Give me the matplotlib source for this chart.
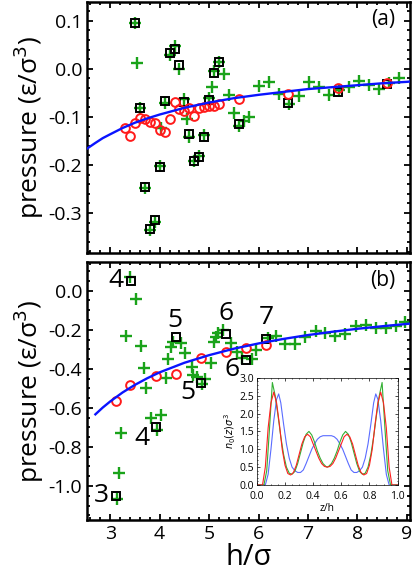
import numpy as np
import matplotlib
matplotlib.use("Agg")
import matplotlib.pyplot as plt
from matplotlib.ticker import MultipleLocator

plt.rcParams['font.family'] = ['Open Sans', 'DejaVu Sans']
plt.rcParams['axes.unicode_minus'] = False
plt.rcParams['mathtext.fontset'] = 'dejavusans'

# ---- panel (a) data ----
a_circ_x = [3.3, 3.4, 3.5, 3.6, 3.7, 3.8, 3.9, 4.0, 4.1, 4.2, 4.3, 4.4, 4.5, 4.6, 4.7, 4.8, 4.9, 5.0,
            5.1, 5.2, 5.6, 6.6, 7.6, 8.6]
a_circ_y = [-0.123, -0.139, -0.113, -0.103, -0.104, -0.111, -0.112, -0.128, -0.132, -0.104, -0.069,
            -0.084, -0.087, -0.082, -0.097, -0.082, -0.080, -0.078, -0.078, -0.073, -0.062, -0.053,
            -0.040, -0.030]
a_sq_x = [3.5, 3.6, 3.7, 3.8, 3.9, 4.0, 4.1, 4.2, 4.3, 4.4, 4.5, 4.6, 4.7, 4.8, 4.9, 5.0, 5.1, 5.2,
          5.6, 6.6, 7.6, 8.6]
a_sq_y = [0.096, -0.082, -0.245, -0.332, -0.314, -0.205, -0.066, 0.033, 0.042, 0.007, -0.068, -0.136,
          -0.192, -0.184, -0.141, -0.064, -0.009, 0.015, -0.114, -0.071, -0.049, -0.031]
a_plus_x = [3.5, 3.54, 3.6, 3.7, 3.8, 3.9, 4.0, 4.03, 4.1, 4.2, 4.3, 4.4, 4.5, 4.55, 4.6, 4.7, 4.8,
            4.9, 5.0, 5.05, 5.1, 5.2, 5.31, 5.41, 5.51, 5.6, 5.71, 5.81, 6.01, 6.22, 6.42, 6.62,
            6.82, 7.03, 7.23, 7.43, 7.63, 7.83, 8.04, 8.24, 8.44, 8.64, 8.84]
a_plus_y = [0.096, 0.012, -0.082, -0.248, -0.336, -0.319, -0.202, -0.124, -0.071, 0.029, 0.048,
            -0.001, -0.062, -0.105, -0.141, -0.192, -0.182, -0.137, -0.061, -0.038, -0.004, 0.015,
            -0.011, -0.055, -0.091, -0.118, -0.108, -0.100, -0.035, -0.027, -0.052, -0.073, -0.057,
            -0.028, -0.037, -0.055, -0.044, -0.037, -0.025, -0.033, -0.042, -0.030, -0.019]
a_fit_x = [2.5, 2.7, 2.85, 3.0, 3.25, 3.5, 3.75, 4.0, 4.5, 5.0, 5.5, 6.0, 6.5, 7.0, 7.5, 8.0, 8.5, 9.0, 9.1]
a_fit_y = [-0.168, -0.154, -0.144, -0.136, -0.123, -0.112, -0.103, -0.095, -0.081, -0.070, -0.061,
           -0.054, -0.048, -0.042, -0.038, -0.034, -0.030, -0.027, -0.026]

# ---- panel (b) data ----
b_circ_x = [3.12, 3.41, 3.93, 4.33, 4.83, 5.34, 5.75, 6.15]
b_circ_y = [-0.566, -0.483, -0.437, -0.426, -0.347, -0.312, -0.292, -0.280]
b_sq_x = [3.12, 3.42, 3.93, 4.33, 4.83, 5.34, 5.75, 6.15]
b_sq_y = [-1.050, 0.051, -0.698, -0.238, -0.472, -0.221, -0.354, -0.245]
b_sq_lab = ['3', '4', '4', '5', '5', '6', '6', '7']
b_lab_dx = [-15, -15, -14, -1, -13, 0, -14, 0]
b_lab_dy = [0, 0, -11, 17, -10, 20, -10, 21]
b_plus_x = [3.13, 3.18, 3.21, 3.32, 3.41, 3.53, 3.63, 3.68, 3.73, 3.83, 3.94, 4.03, 4.13, 4.17, 4.22,
            4.27, 4.44, 4.51, 4.65, 4.68, 4.75, 4.85, 4.92, 5.03, 5.09, 5.14, 5.17, 5.29, 5.44, 5.57,
            5.66, 5.86, 5.95, 6.19, 6.35, 6.53, 6.73, 6.94, 7.16, 7.34, 7.55, 7.75, 7.97, 8.17, 8.37,
            8.58, 8.78, 8.96]
b_plus_y = [-1.065, -0.933, -0.727, -0.232, 0.070, -0.044, -0.283, -0.396, -0.497, -0.650, -0.715,
            -0.635, -0.447, -0.348, -0.288, -0.263, -0.268, -0.317, -0.391, -0.430, -0.442, -0.476,
            -0.451, -0.369, -0.263, -0.237, -0.215, -0.203, -0.266, -0.314, -0.345, -0.351, -0.302,
            -0.242, -0.232, -0.275, -0.275, -0.237, -0.206, -0.217, -0.232, -0.220, -0.182, -0.177,
            -0.189, -0.191, -0.182, -0.160]
b_fit_x = [2.7, 2.85, 3.0, 3.25, 3.5, 3.75, 4.0, 4.5, 5.0, 5.5, 6.0, 6.5, 7.0, 7.5, 8.0, 8.5, 9.0, 9.1]
b_fit_y = [-0.633, -0.598, -0.567, -0.521, -0.482, -0.448, -0.418, -0.369, -0.330, -0.297, -0.270,
           -0.247, -0.227, -0.210, -0.195, -0.182, -0.170, -0.168]

# ---- inset density profiles ----
red_z = [0.0, 0.04, 0.06, 0.08, 0.10, 0.12, 0.14, 0.16, 0.18, 0.20, 0.22, 0.24, 0.26, 0.28, 0.30, 0.32,
         0.34, 0.36, 0.38, 0.40, 0.42, 0.44, 0.46, 0.48, 0.50, 0.52, 0.54, 0.56, 0.58, 0.60, 0.62, 0.64,
         0.66, 0.68, 0.70, 0.72, 0.74, 0.76, 0.78, 0.80, 0.82, 0.84, 0.86, 0.88, 0.90, 0.92, 0.94, 0.96, 1.0]
red_n = [0, 0, 0.5, 1.6, 2.3, 2.6, 2.3, 1.7, 1.0, 0.55, 0.32, 0.28, 0.35, 0.55, 0.85, 1.15, 1.35, 1.42,
         1.35, 1.15, 0.95, 0.75, 0.6, 0.52, 0.5, 0.52, 0.6, 0.75, 0.95, 1.15, 1.35, 1.42, 1.35, 1.15,
         0.85, 0.55, 0.35, 0.28, 0.32, 0.55, 1.0, 1.7, 2.3, 2.6, 2.3, 1.6, 0.5, 0, 0]
green_z = [0.0, 0.05, 0.07, 0.09, 0.11, 0.13, 0.15, 0.17, 0.19, 0.21, 0.23, 0.25, 0.27, 0.29, 0.31, 0.33,
           0.35, 0.37, 0.39, 0.41, 0.43, 0.45, 0.47, 0.49, 0.50, 0.51, 0.53, 0.55, 0.57, 0.59, 0.61, 0.63,
           0.65, 0.67, 0.69, 0.71, 0.73, 0.75, 0.77, 0.79, 0.81, 0.83, 0.85, 0.87, 0.89, 0.91, 0.93, 0.95, 1.0]
green_n = [0, 0, 0.4, 1.6, 2.87, 2.5, 1.95, 1.35, 0.85, 0.5, 0.33, 0.3, 0.38, 0.6, 0.9, 1.2, 1.42, 1.5,
           1.4, 1.2, 0.95, 0.75, 0.6, 0.52, 0.5, 0.52, 0.6, 0.75, 0.95, 1.2, 1.4, 1.5, 1.42, 1.2, 0.9,
           0.6, 0.38, 0.3, 0.33, 0.5, 0.85, 1.35, 1.95, 2.5, 2.87, 1.6, 0.4, 0, 0]
blue_z = [0.0, 0.06, 0.08, 0.10, 0.12, 0.14, 0.155, 0.17, 0.19, 0.21, 0.23, 0.25, 0.27, 0.29, 0.31, 0.33,
          0.35, 0.37, 0.39, 0.41, 0.43, 0.45, 0.47, 0.50, 0.53, 0.55, 0.57, 0.59, 0.61, 0.63, 0.65, 0.67,
          0.69, 0.71, 0.73, 0.75, 0.77, 0.79, 0.81, 0.83, 0.845, 0.86, 0.88, 0.90, 0.92, 0.94, 1.0]
blue_n = [0, 0, 0.3, 1.0, 1.8, 2.4, 2.55, 2.3, 1.7, 1.15, 0.75, 0.5, 0.4, 0.35, 0.35, 0.42, 0.6, 0.8,
          1.0, 1.15, 1.28, 1.35, 1.38, 1.38, 1.38, 1.35, 1.28, 1.15, 1.0, 0.8, 0.6, 0.42, 0.35, 0.35,
          0.4, 0.5, 0.75, 1.15, 1.7, 2.3, 2.55, 2.4, 1.8, 1.0, 0.3, 0, 0]

GREEN = '#1aa31a'
RED = '#ff1a1a'
BLUE = '#0a14ff'

fig = plt.figure(figsize=(4.15, 5.79), dpi=100)
ax1 = fig.add_axes([0.2096, 0.563, 0.778, 0.4335])
ax2 = fig.add_axes([0.2096, 0.1019, 0.778, 0.4456])


def style(ax, ymaj, ymin):
    ax.xaxis.set_major_locator(MultipleLocator(1))
    ax.xaxis.set_minor_locator(MultipleLocator(0.2))
    ax.yaxis.set_major_locator(MultipleLocator(ymaj))
    ax.yaxis.set_minor_locator(MultipleLocator(ymin))
    ax.tick_params(which='both', direction='in', top=True, right=True, width=1.3)
    ax.tick_params(which='major', length=4, labelsize=14)
    ax.tick_params(which='minor', length=2)
    for s in ax.spines.values():
        s.set_linewidth(1.8)


def draw(ax, px, py, sx, sy, cx, cy, fx, fy):
    ax.plot(px, py, '+', color=GREEN, ms=8.5, mew=1.7, ls='none', zorder=2)
    ax.plot(sx, sy, 's', mfc='none', mec='black', ms=5.2, mew=1.4, ls='none', zorder=3)
    ax.plot(cx, cy, 'o', mfc='none', mec=RED, ms=6.3, mew=1.4, ls='none', zorder=4)
    ax.plot(fx, fy, '-', color=BLUE, lw=1.7, zorder=5)


draw(ax1, a_plus_x, a_plus_y, a_sq_x, a_sq_y, a_circ_x, a_circ_y, a_fit_x, a_fit_y)
ax1.set_xlim(2.53, 9.06)
ax1.set_ylim(-0.383, 0.139)
style(ax1, 0.1, 0.02)
ax1.tick_params(labelbottom=False)
ax1.set_ylabel('pressure (ε/σ$^3$)', fontsize=19, labelpad=2)
ax1.text(0.955, 0.93, '(a)', transform=ax1.transAxes, ha='right', va='center', fontsize=15)

draw(ax2, b_plus_x, b_plus_y, b_sq_x, b_sq_y, b_circ_x, b_circ_y, b_fit_x, b_fit_y)
ax2.set_xlim(2.53, 9.06)
ax2.set_ylim(-1.174, 0.147)
style(ax2, 0.2, 0.05)
ax2.set_ylabel('pressure (ε/σ$^3$)', fontsize=19, labelpad=2)
ax2.set_xlabel('h/σ', fontsize=21, labelpad=0)
ax2.text(0.955, 0.93, '(b)', transform=ax2.transAxes, ha='right', va='center', fontsize=15)
for x, y, lab, dx, dy in zip(b_sq_x, b_sq_y, b_sq_lab, b_lab_dx, b_lab_dy):
    ax2.annotate(lab, (x, y), xytext=(dx, dy), textcoords='offset pixels',
                 ha='center', va='center', fontsize=19)

# inset
ins = fig.add_axes([0.619, 0.1624, 0.339, 0.185])
ins.plot(blue_z, blue_n, color='#5a6cff', lw=0.8)
ins.plot(green_z, green_n, color='#33b033', lw=0.8)
ins.plot(red_z, red_n, color='#ff2020', lw=0.8)
ins.set_xlim(0, 1)
ins.set_ylim(0, 3)
ins.xaxis.set_major_locator(MultipleLocator(0.2))
ins.xaxis.set_minor_locator(MultipleLocator(0.05))
ins.yaxis.set_major_locator(MultipleLocator(0.5))
ins.yaxis.set_minor_locator(MultipleLocator(0.1))
ins.tick_params(which='both', direction='in', top=True, right=True, width=0.5)
ins.tick_params(which='major', length=2, labelsize=7.5)
ins.tick_params(axis='x', which='major', pad=4)
ins.tick_params(axis='y', which='major', pad=2)
ins.tick_params(which='minor', length=1)
for s in ins.spines.values():
    s.set_linewidth(0.5)
ins.set_xlabel('z/h', fontsize=7.5, labelpad=1)
ins.set_ylabel('$n_0(z)\\sigma^3$', fontsize=7, labelpad=1)

fig.savefig('out.png', dpi=100)
